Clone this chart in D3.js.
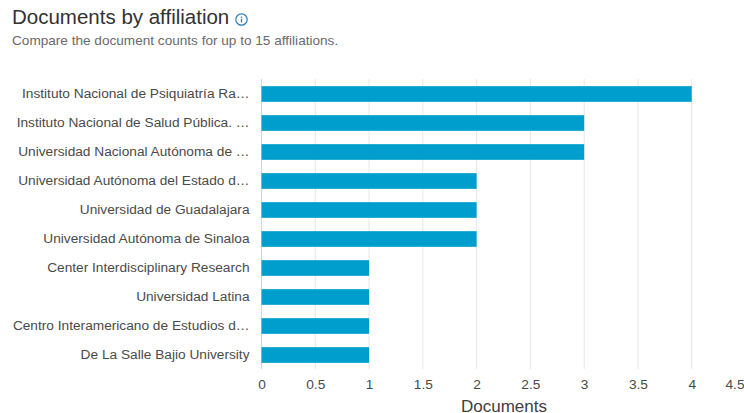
<!DOCTYPE html>
<html>
<head>
<meta charset="utf-8">
<script src="https://cdn.jsdelivr.net/npm/d3@7"></script>
<style>
  html, body { margin: 0; padding: 0; background: #fff; overflow: hidden; }
  svg { display: block; font-family: "Liberation Sans", Arial, sans-serif; }
</style>
</head>
<body>
<svg id="chart" width="744" height="413"></svg>
<script>
"use strict";

const affiliations = [
  "Instituto Nacional de Psiquiatría Ra…",
  "Instituto Nacional de Salud Pública. …",
  "Universidad Nacional Autónoma de …",
  "Universidad Autónoma del Estado d…",
  "Universidad de Guadalajara",
  "Universidad Autónoma de Sinaloa",
  "Center Interdisciplinary Research",
  "Universidad Latina",
  "Centro Interamericano de Estudios d…",
  "De La Salle Bajio University"
];
const documents = [4, 3, 3, 2, 2, 2, 1, 1, 1, 1];
const xTicks = [0, 0.5, 1, 1.5, 2, 2.5, 3, 3.5, 4, 4.5];

const margin = { top: 79, left: 261.5, bottom: 369 };
const plotRight = 745.5;
const labelSize = 13.7;

const svg = d3.select("#chart");

// scales
const x = d3.scaleLinear().domain([0, 4.5]).range([margin.left, plotRight]);
const y = d3.scaleBand()
            .domain(affiliations)
            .range([margin.top + 0.5, margin.bottom + 0.5])
            .paddingInner(0.46)
            .paddingOuter(0.23);

// title block
svg.append("text")
    .attr("x", 12).attr("y", 24)
    .attr("font-size", 20.5)
    .attr("fill", "#323232")
    .text("Documents by affiliation");

// info icon
const info = svg.append("g").attr("transform", "translate(241.5,19.5)")
    .attr("fill", "none").attr("stroke", "#2a7fb8");
info.append("circle").attr("r", 5.7).attr("stroke-width", 1.2);
info.append("line").attr("y1", -0.8).attr("y2", 3).attr("stroke-width", 1.3);
info.append("line").attr("y1", -3).attr("y2", -1.7).attr("stroke-width", 1.3);

svg.append("text")
    .attr("x", 12).attr("y", 45)
    .attr("font-size", 13.6)
    .attr("fill", "#6a6a6a")
    .text("Compare the document counts for up to 15 affiliations.");

// grid lines
svg.append("g")
    .selectAll("line")
    .data(xTicks)
  .enter().append("line")
    .attr("x1", (d) => x(d)).attr("x2", (d) => x(d))
    .attr("y1", margin.top).attr("y2", margin.bottom)
    .attr("stroke", (d) => d === 0 ? "#ccd6eb" : "#e6e6e6")
    .attr("stroke-width", 1);

// bars
svg.append("g")
    .selectAll("rect")
    .data(documents)
  .enter().append("rect")
    .attr("x", x(0))
    .attr("y", (d, i) => y(affiliations[i]))
    .attr("width", (d) => x(d) - x(0))
    .attr("height", y.bandwidth())
    .attr("fill", "#009ecc");

// y-axis labels
const yAxis = d3.axisLeft(y).tickSize(0).tickPadding(12);
svg.append("g")
    .attr("transform", "translate(" + margin.left + ",0)")
    .call(yAxis)
    .call((g) => g.select(".domain").remove())
    .call((g) => g.selectAll("text")
      .attr("font-family", "'Liberation Sans', Arial, sans-serif")
      .attr("font-size", labelSize)
      .attr("fill", "#4a4a4a"));

// x-axis labels, the last one is pulled back inside the window
const xAxis = d3.axisBottom(x).tickValues(xTicks).tickFormat(d3.format("~g")).tickSize(0).tickPadding(10);
svg.append("g")
    .attr("transform", "translate(0," + margin.bottom + ")")
    .call(xAxis)
    .call((g) => g.select(".domain").remove())
    .call((g) => g.selectAll("text")
      .attr("font-family", "'Liberation Sans', Arial, sans-serif")
      .attr("font-size", labelSize)
      .attr("fill", "#4a4a4a")
      .filter((d) => d === 4.5)
      .attr("text-anchor", "end")
      .attr("x", 744 - plotRight));

// x-axis title
svg.append("text")
    .attr("x", 504).attr("y", 412)
    .attr("text-anchor", "middle")
    .attr("font-size", 17)
    .attr("fill", "#404040")
    .text("Documents");
</script>
</body>
</html>
